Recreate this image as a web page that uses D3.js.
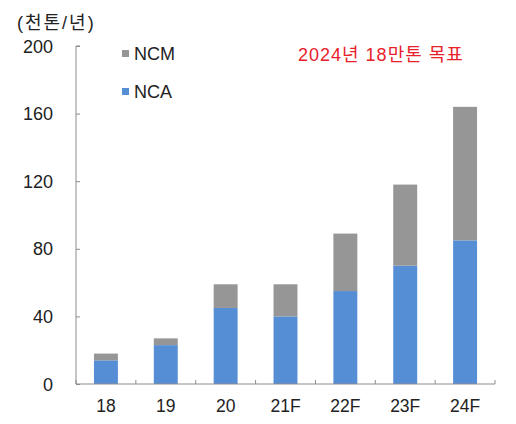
<!DOCTYPE html>
<html>
<head>
<meta charset="utf-8">
<script src="https://d3js.org/d3.v7.min.js"></script>
<style>
  body { margin: 0; background: #fff; }
  text { font-family: 'Liberation Sans', 'Noto Sans CJK KR', sans-serif; }
</style>
</head>
<body>
<div id="chart"></div>
<script>
const years = ["18", "19", "20", "21F", "22F", "23F", "24F"];
const nca = [14, 23, 45, 40, 55, 70, 85];
const ncm = [4, 4, 14, 19, 34, 48, 79];
const yTicks = [0, 40, 80, 120, 160, 200];

const width = 516, height = 424;
const margin = { top: 46, right: 21, bottom: 40, left: 76 };

const svg = d3.select("#chart").append("svg")
    .attr("width", width)
    .attr("height", height);

const x = d3.scaleBand()
    .domain(years)
    .range([margin.left, width - margin.right])
    .paddingInner(0.6)
    .paddingOuter(0.3);

const y = d3.scaleLinear()
    .domain([0, 200])
    .range([height - margin.bottom, margin.top]);

const rows = years.map((yr, i) => ({ year: yr, NCA: nca[i], NCM: ncm[i] }));
const stack = d3.stack().keys(["NCA", "NCM"])(rows);
const colors = { NCA: "#558ed5", NCM: "#969696" };

// bars
svg.append("g")
    .selectAll("g")
    .data(stack)
    .join("g")
    .attr("fill", d => colors[d.key])
    .selectAll("rect")
    .data(d => d)
    .join("rect")
    .attr("x", d => x(d.data.year))
    .attr("y", d => y(d[1]))
    .attr("width", x.bandwidth())
    .attr("height", d => y(d[0]) - y(d[1]));

const axisColor = "#8c8c8c";

// y axis
const yAxis = svg.append("g")
    .attr("transform", `translate(${margin.left},0)`)
    .call(d3.axisRight(y).tickValues(yTicks).tickSize(4).tickFormat(""));
yAxis.select(".domain").attr("stroke", axisColor).attr("d", `M4,${y(200)}H0V${y(0)}`);
yAxis.selectAll(".tick line").attr("stroke", axisColor);

svg.append("g")
    .selectAll("text")
    .data(yTicks)
    .join("text")
    .attr("x", 53)
    .attr("y", d => y(d) + 6.5)
    .attr("text-anchor", "end")
    .attr("font-size", 18)
    .attr("fill", "#222")
    .text(d => d);

// x axis
const step = x.step();
const xBounds = d3.range(years.length + 1).map(i => margin.left + i * step);
svg.append("line")
    .attr("x1", margin.left).attr("x2", width - margin.right)
    .attr("y1", y(0)).attr("y2", y(0))
    .attr("stroke", axisColor);
svg.append("g")
    .selectAll("line")
    .data(xBounds)
    .join("line")
    .attr("x1", d => d).attr("x2", d => d)
    .attr("y1", y(0)).attr("y2", y(0) - 4)
    .attr("stroke", axisColor);

svg.append("g")
    .selectAll("text")
    .data(years)
    .join("text")
    .attr("x", d => x(d) + x.bandwidth() / 2)
    .attr("y", 412)
    .attr("text-anchor", "middle")
    .attr("font-size", 17.5)
    .attr("fill", "#222")
    .text(d => d);

// unit label
svg.append("text")
    .attr("x", 17)
    .attr("y", 29)
    .attr("font-size", 18)
    .attr("letter-spacing", 2)
    .attr("fill", "#222")
    .text("(천톤/년)");

// legend
const legend = [{ key: "NCM", y: 50 }, { key: "NCA", y: 88 }];
const lg = svg.append("g").selectAll("g").data(legend).join("g");
lg.append("rect")
    .attr("x", 122).attr("y", d => d.y)
    .attr("width", 7).attr("height", 7)
    .attr("fill", d => colors[d.key]);
lg.append("text")
    .attr("x", 134).attr("y", d => d.y + 10)
    .attr("font-size", 18)
    .attr("fill", "#222")
    .text(d => d.key);

// annotation
svg.append("text")
    .attr("x", 298)
    .attr("y", 61)
    .attr("font-size", 18)
    .attr("letter-spacing", 1)
    .attr("fill", "#e8202a")
    .text("2024년 18만톤 목표");
</script>
</body>
</html>
